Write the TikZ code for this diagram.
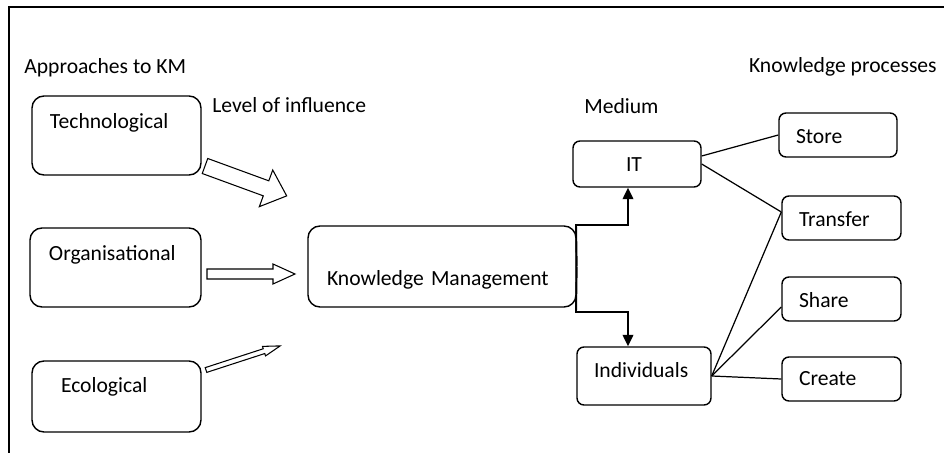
\documentclass[tikz,border=0pt]{standalone}
\usepackage{fontspec}
\setmainfont{Carlito}
\usepackage{tikz}
\usetikzlibrary{calc,arrows.meta}
\newdimen\pxu
\pxu=0.02cm

\begin{document}
\begin{tikzpicture}[x=0.02cm, y=-0.02cm,
        every node/.style={font=\fontsize{12.3}{14}\selectfont},
        box/.style={draw, line width=0.8pt, rounded corners=0.24cm, inner ysep=0pt, align=left},
        smallbox/.style={box, rounded corners=0.14cm},
        title/.style={inner sep=0pt},
        blockarrow/.style={draw, line width=0.6pt, line join=miter},
        elbow/.style={line width=1.1pt, -{Triangle[length=6.5pt, width=6pt]}},
        link/.style={line width=0.7pt}]
        \useasboundingbox (0,0) rectangle (944,453);
        \draw[line width=0.85pt] (9,453) -- (9,7) -- (944,7);

        \node[title, anchor=base west] (approaches) at (24,73) {Approaches to KM};
        \node[title, anchor=base west] (influence) at (212,112) {Level of influence};
        \node[title, anchor=base west] (medium) at (584,113) {Medium};
        \node[title, anchor=base east] (processes) at (937,72) {Knowledge processes};

        \node[box, inner xsep=18\pxu, text width=133\pxu, text height=32\pxu, text depth=47\pxu] (tech) at (116.5,135.5) {Technological};
        \node[box, inner xsep=19\pxu, text width=133\pxu, text height=32\pxu, text depth=47\pxu] (org) at (115.5,267.5) {Organisational};
        \node[box, inner xsep=29\pxu, text width=111\pxu, text height=31\pxu, text depth=40\pxu] (eco) at (116.5,396.5) {Ecological};
        \node[box, inner xsep=19\pxu, text width=230\pxu, text height=59\pxu, text depth=22\pxu] (km) at (442,266.5) {Knowledge Management};

        \node[smallbox, inner xsep=53\pxu, text width=22\pxu, text height=30\pxu, text depth=16\pxu] (it) at (637,164) {IT};
        \node[smallbox, inner xsep=17\pxu, text width=100\pxu, text height=30\pxu, text depth=28\pxu] (ind) at (644,376) {Individuals};
        \node[smallbox, inner xsep=17\pxu, text width=84\pxu, text height=30\pxu, text depth=14\pxu] (store) at (838,135) {Store};
        \node[smallbox, inner xsep=17\pxu, text width=85\pxu, text height=30\pxu, text depth=14\pxu] (transfer) at (841.5,218) {Transfer};
        \node[smallbox, inner xsep=17\pxu, text width=85\pxu, text height=30\pxu, text depth=14\pxu] (share) at (841.5,299) {Share};
        \node[smallbox, inner xsep=17\pxu, text width=85\pxu, text height=28\pxu, text depth=16\pxu] (create) at (841.5,379) {Create};

        \draw[blockarrow, shift={(205,166)}, rotate=-20.1] (0,-8) -- (65,-8) -- (65,-19.5) -- (87,0) -- (65,19.5) -- (65,8) -- (0,8) -- cycle;
        \draw[blockarrow, shift={(207,274)}] (0,-5) -- (66,-5) -- (66,-10) -- (88,0) -- (66,10) -- (66,5) -- (0,5) -- cycle;
        \draw[blockarrow, shift={(206,370)}, rotate=18] (0,-2.5) -- (61,-2.5) -- (61,-5) -- (78,0) -- (61,5) -- (61,2.5) -- (0,2.5) -- cycle;

        \coordinate (up) at (576,225);
        \coordinate (down) at (576,312);
        \draw[elbow] (km.east) -- (up) -| ($(it.south)+(-9,0)$);
        \draw[elbow] (km.east) -- (down) -| ($(ind.north)+(-16,0)$);

        \draw[link] ($(it.east)+(0,-8)$) -- (store.west);
        \draw[link] (it.east) -- ($(transfer.west)+(0,-6)$);
        \draw[link] (ind.east) -- ($(transfer.west)+(0,-6)$);
        \draw[link] (ind.east) -- ($(share.west)+(0,8)$);
        \draw[link] (ind.east) -- (create.west);
    \end{tikzpicture}
\end{document}
